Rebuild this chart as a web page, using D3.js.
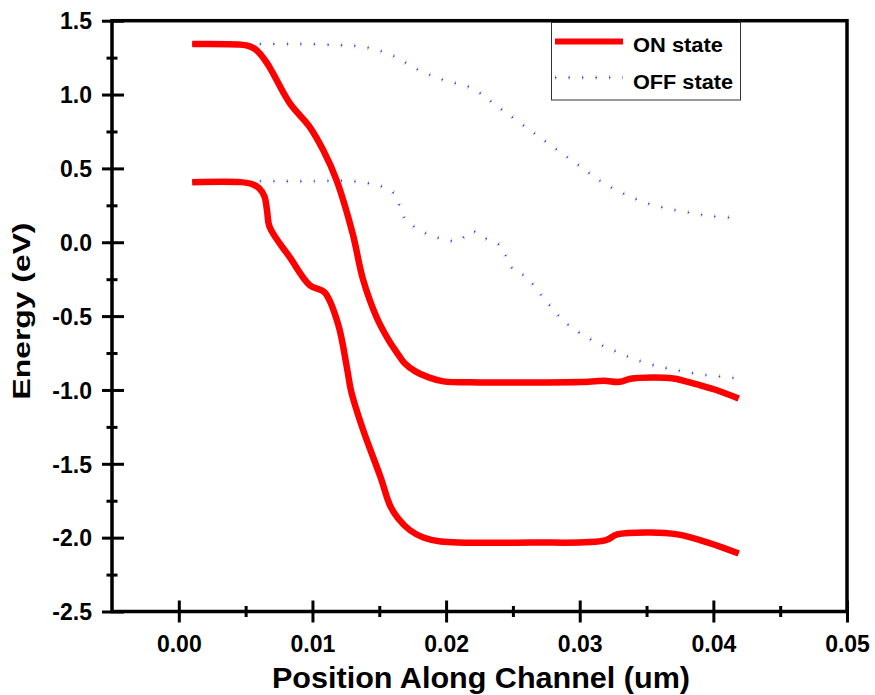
<!DOCTYPE html>
<html>
<head>
<meta charset="utf-8">
<script src="https://cdn.jsdelivr.net/npm/d3@7"></script>
<style>
body { margin: 0; background: #fff; }
svg { display: block; }
text { font-family: "Liberation Sans", Arial, Helvetica, sans-serif; font-weight: bold; fill: #000; }
</style>
</head>
<body>
<svg width="875" height="695"></svg>
<script>
// band edges, [position (um), energy (eV)]
const onUpper = [
  [0.0010, 1.342], [0.0046, 1.338], [0.0052, 1.329], [0.0057, 1.308], [0.0061, 1.274],
  [0.0066, 1.213], [0.0070, 1.152], [0.0083, 0.942], [0.0098, 0.780], [0.0108, 0.624],
  [0.0118, 0.421], [0.0130, 0.062], [0.0138, -0.257], [0.0148, -0.508], [0.0157, -0.663],
  [0.0163, -0.745], [0.0169, -0.819], [0.0177, -0.874], [0.0187, -0.915], [0.0198, -0.942],
  [0.0225, -0.949], [0.0263, -0.949], [0.0300, -0.947], [0.0318, -0.938], [0.0330, -0.945],
  [0.0338, -0.924], [0.0354, -0.915], [0.0370, -0.922], [0.0388, -0.963], [0.0401, -0.997],
  [0.0419, -1.058]
];
const onLower = [
  [0.0010, 0.407], [0.0046, 0.407], [0.0055, 0.393], [0.0060, 0.366], [0.0064, 0.312],
  [0.0066, 0.217], [0.0068, 0.102], [0.0083, -0.101], [0.0098, -0.291], [0.0109, -0.339],
  [0.0119, -0.549], [0.0126, -0.860], [0.0129, -1.010], [0.0138, -1.273], [0.0151, -1.592],
  [0.0158, -1.781], [0.0164, -1.869], [0.0173, -1.950], [0.0183, -1.999], [0.0196, -2.026],
  [0.0263, -2.033], [0.0319, -2.019], [0.0328, -1.978], [0.0353, -1.965], [0.0373, -1.978],
  [0.0396, -2.033], [0.0419, -2.107]
];
const offUpper = [
  [0.0010, 1.342], [0.0052, 1.342], [0.0089, 1.342], [0.0119, 1.335], [0.0139, 1.322],
  [0.0159, 1.268], [0.0178, 1.173], [0.0198, 1.098], [0.0219, 1.044], [0.0240, 0.909],
  [0.0270, 0.712], [0.0300, 0.516], [0.0319, 0.394], [0.0350, 0.265], [0.0380, 0.204],
  [0.0399, 0.177], [0.0419, 0.163]
];
const offLower = [
  [0.0010, 0.413], [0.0091, 0.413], [0.0136, 0.407], [0.0160, 0.339], [0.0169, 0.163],
  [0.0179, 0.089], [0.0190, 0.041], [0.0199, 0.021], [0.0209, 0.007], [0.0219, 0.075],
  [0.0229, 0.028], [0.0240, -0.020], [0.0250, -0.182], [0.0260, -0.236], [0.0274, -0.390],
  [0.0289, -0.541], [0.0309, -0.663], [0.0330, -0.751], [0.0350, -0.819], [0.0369, -0.860],
  [0.0390, -0.894], [0.0419, -0.921]
];
const xMajor = [0, 0.01, 0.02, 0.03, 0.04, 0.05];
const xMinor = [0.005, 0.015, 0.025, 0.035, 0.045];
const yMajor = [-2.5, -2.0, -1.5, -1.0, -0.5, 0.0, 0.5, 1.0, 1.5];
const yMinor = [-2.25, -1.75, -1.25, -0.75, -0.25, 0.25, 0.75, 1.25];
const legendNames = ["ON state", "OFF state"];

const svg = d3.select("svg");
const x = d3.scaleLinear().domain([-0.005, 0.05]).range([112, 847]);
const y = d3.scaleLinear().domain([-2.5, 1.5]).range([611.5, 20.7]);

const smooth = d3.line().x(d => x(d[0])).y(d => y(d[1])).curve(d3.curveCatmullRom.alpha(0.5));

// OFF state: faint bars with a blue dot, like the original's sparse dotted line
function offPath(g, data) {
  g.append("path").attr("d", smooth(data))
    .attr("fill", "none").attr("stroke", "#c4c4f6").attr("stroke-width", 5)
    .attr("stroke-dasharray", "1 12.5");
  g.append("path").attr("d", smooth(data))
    .attr("fill", "none").attr("stroke", "#2a2aff").attr("stroke-width", 1.4)
    .attr("stroke-dasharray", "1.4 12.1");
}

const plot = svg.append("g");
offPath(plot, offUpper);
offPath(plot, offLower);
[onUpper, onLower].forEach(d => {
  plot.append("path").attr("d", smooth(d))
    .attr("fill", "none").attr("stroke", "#ff0000").attr("stroke-width", 6.5)
    .attr("stroke-linejoin", "round").attr("stroke-linecap", "butt");
});

// frame
svg.append("rect")
  .attr("x", x.range()[0]).attr("y", y.range()[1])
  .attr("width", x.range()[1] - x.range()[0]).attr("height", y.range()[0] - y.range()[1])
  .attr("fill", "none").attr("stroke", "#000").attr("stroke-width", 3.5);

const fmt = f => d => d3.format(f)(d).replace("\u2212", "-");

// x axis
const xg = svg.append("g").attr("transform", "translate(0," + y.range()[0] + ")");
xg.call(d3.axisBottom(x).tickValues(xMajor).tickFormat(fmt(".2f")));
xg.select(".domain").remove();
xg.attr("font-family", null).attr("font-size", null);
xg.selectAll(".tick line").attr("y1", -11).attr("y2", 11).attr("stroke-width", 3);
xg.selectAll(".tick text").attr("y", 40).attr("dy", 0).style("font-size", "23px");
const xm = svg.append("g").attr("transform", "translate(0," + y.range()[0] + ")");
xm.call(d3.axisBottom(x).tickValues(xMinor).tickFormat(""));
xm.select(".domain").remove();
xm.selectAll(".tick line").attr("y1", -5.5).attr("y2", 5.5).attr("stroke-width", 3);

// y axis
const yg = svg.append("g").attr("transform", "translate(" + x.range()[0] + ",0)");
yg.call(d3.axisLeft(y).tickValues(yMajor).tickFormat(fmt(".1f")));
yg.select(".domain").remove();
yg.attr("font-family", null).attr("font-size", null);
yg.selectAll(".tick line").attr("x1", -10).attr("x2", 12).attr("stroke-width", 3);
yg.selectAll(".tick text").attr("x", -20).attr("dy", "0.36em").style("font-size", "23px");
const ym = svg.append("g").attr("transform", "translate(" + x.range()[0] + ",0)");
ym.call(d3.axisLeft(y).tickValues(yMinor).tickFormat(""));
ym.select(".domain").remove();
ym.selectAll(".tick line").attr("x1", -5.5).attr("x2", 5.5).attr("stroke-width", 3);

// axis titles
svg.append("text").attr("x", 481).attr("y", 688).attr("text-anchor", "middle")
  .style("font-size", "29px").attr("textLength", 418).attr("lengthAdjust", "spacingAndGlyphs")
  .text("Position Along Channel (um)");
svg.append("text").attr("transform", "translate(30,311) rotate(-90)").attr("text-anchor", "middle")
  .style("font-size", "23px").attr("textLength", 177).attr("lengthAdjust", "spacingAndGlyphs")
  .text("Energy (eV)");

// legend
const lg = svg.append("g");
lg.append("rect").attr("x", 551.5).attr("y", 22.5).attr("width", 189).attr("height", 77.5)
  .attr("fill", "#fff").attr("stroke", "#333").attr("stroke-width", 1);
lg.append("line").attr("x1", 555).attr("x2", 623).attr("y1", 41.5).attr("y2", 41.5)
  .attr("stroke", "#ff0000").attr("stroke-width", 6);
offPath(lg, [[x.invert(555), y.invert(77.5)], [x.invert(623), y.invert(77.5)]]);
lg.selectAll("text.leg").data(legendNames).enter().append("text").attr("class", "leg")
  .attr("x", 633).attr("y", (d, i) => 52 + i * 37)
  .style("font-size", "20px")
  .attr("textLength", (d, i) => i === 0 ? 90 : 100).attr("lengthAdjust", "spacingAndGlyphs")
  .text(d => d);
</script>
</body>
</html>
